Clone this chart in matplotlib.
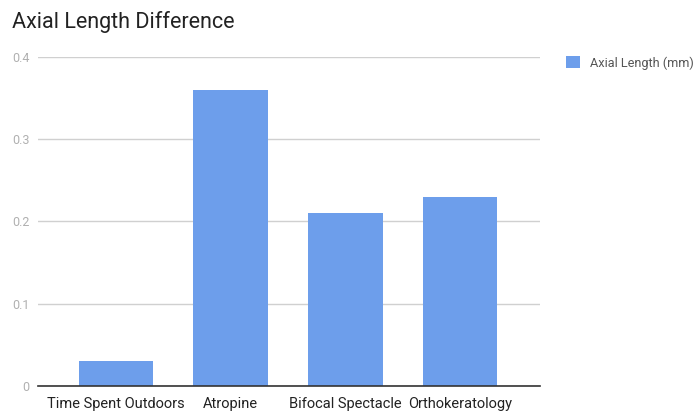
import matplotlib.pyplot as plt
from matplotlib.patches import Patch

plt.rcParams['font.family'] = ['Roboto', 'DejaVu Sans']

categories = ['Time Spent Outdoors', 'Atropine', 'Bifocal Spectacle', 'Orthokeratology']
axial_length = [0.03, 0.36, 0.21, 0.23]
yticks = [0, 0.1, 0.2, 0.3, 0.4]
ytick_labels = ['0', '0.1', '0.2', '0.3', '0.4']

bar_color = '#6d9eeb'

fig = plt.figure(figsize=(6.97, 4.13), dpi=100)
ax = fig.add_axes([0.0545, 0.0654, 0.7205, 0.7966])

x = range(len(categories))
ax.bar(x, axial_length, width=0.65, color=bar_color, zorder=3)

ax.set_xlim(-0.68, 3.70)
ax.set_ylim(0, 0.4)
ax.set_yticks(yticks)
ax.set_yticklabels(ytick_labels)
ax.set_xticks(list(x))
ax.set_xticklabels(categories)

ax.grid(axis='y', color='#d0d0d0', linewidth=1, zorder=0)
for s in ['top', 'right', 'left']:
    ax.spines[s].set_visible(False)
ax.spines['bottom'].set_color('#333333')
ax.spines['bottom'].set_linewidth(1.2)
ax.spines['bottom'].set_zorder(4)

ax.tick_params(axis='y', length=0, pad=6, labelsize=9, labelcolor='#b0b0b0')
ax.tick_params(axis='x', length=0, pad=8, labelsize=10.5, labelcolor='#222222')

fig.text(0.017, 0.947, 'Axial Length Difference', fontsize=15.5, color='#222222',
         ha='left', va='center')

handle = Patch(facecolor=bar_color, edgecolor='none')
fig.legend([handle], ['Axial Length (mm)'], loc='upper left',
           bbox_to_anchor=(0.795, 0.892), frameon=False, fontsize=9.2,
           labelcolor='#555555', handlelength=1.1, handleheight=1.1,
           handletextpad=0.8)

fig.savefig('out.png', dpi=100)
